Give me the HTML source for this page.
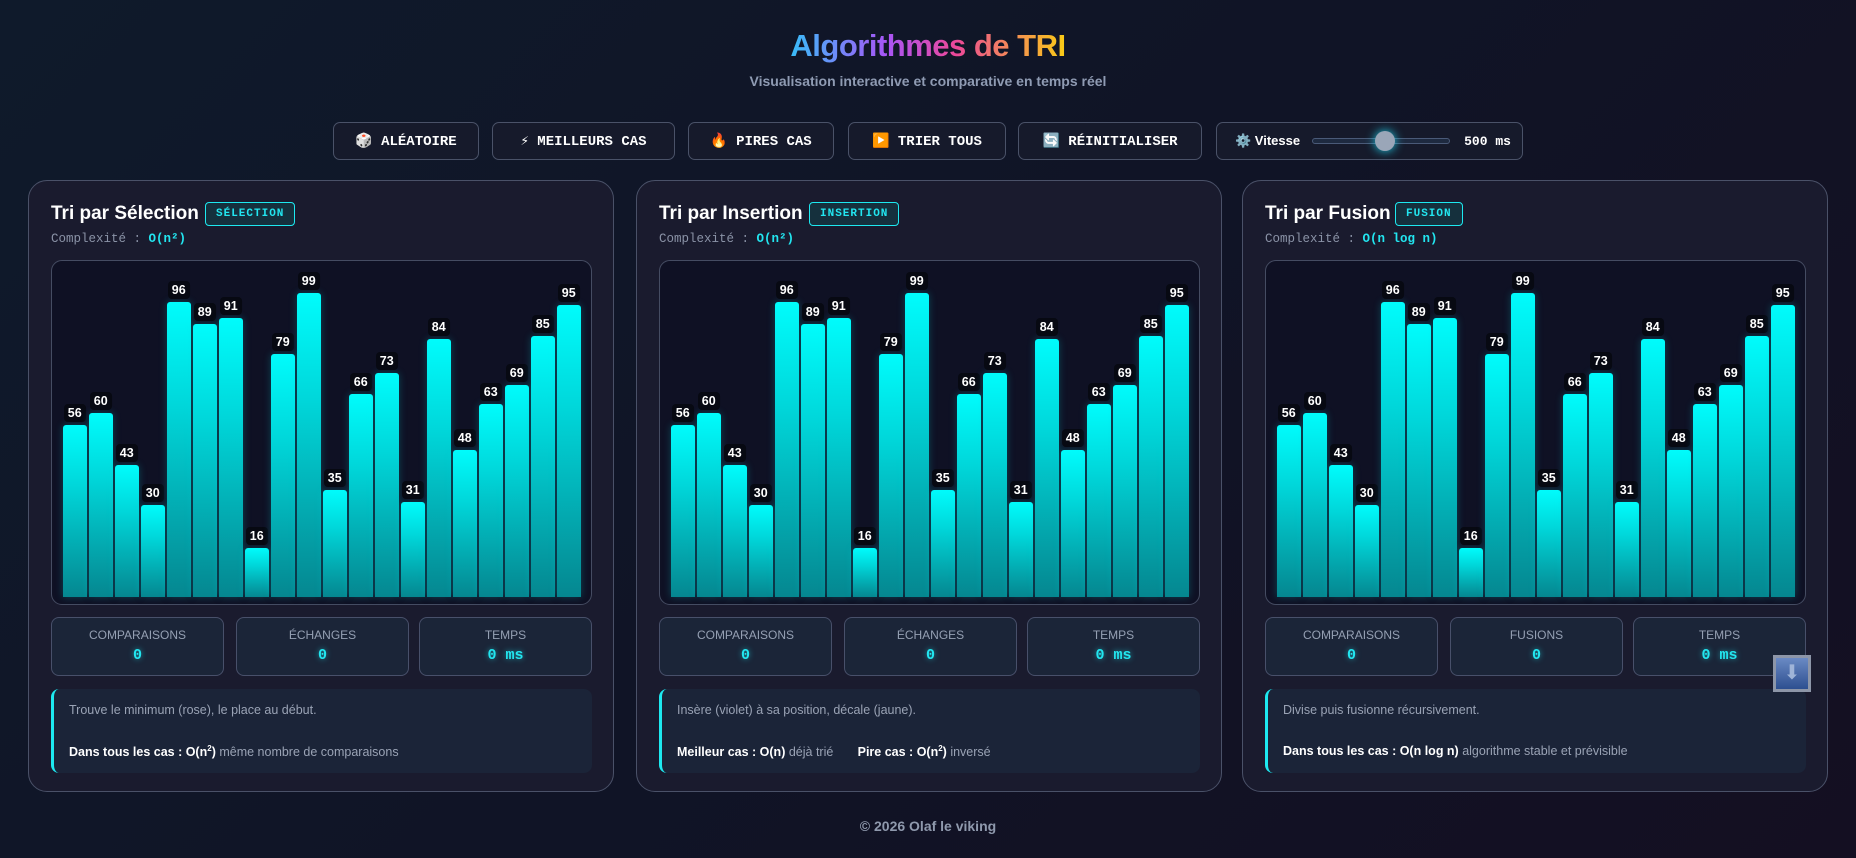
<!DOCTYPE html>
<html><head><meta charset="utf-8"><style>
*{box-sizing:border-box;margin:0;padding:0}
body{width:1856px;height:858px;overflow:hidden;background:linear-gradient(135deg,#0f1a2b 0%,#101426 50%,#140f22 100%);font-family:"Liberation Sans","DejaVu Sans",sans-serif;color:#fff;position:relative}
.h1{position:absolute;top:28px;left:0;width:1856px;text-align:center;font-size:31px;font-weight:bold;letter-spacing:-0.5px}
.h1 span{background:linear-gradient(90deg,#38bdf8,#a855f7 35%,#ec4899 60%,#facc15);-webkit-background-clip:text;background-clip:text;color:transparent}
.sub{position:absolute;top:73px;width:1856px;text-align:center;font-size:14px;font-weight:bold;color:#8f9bb3}
.btn{position:absolute;top:122px;height:38px;border:1px solid #4a5268;border-radius:7px;background:#161a2b;font-family:"Liberation Mono",monospace;font-weight:bold;font-size:14px;color:#fff;display:flex;align-items:center;justify-content:center;gap:8px}
.panel{position:absolute;top:180px;width:586px;height:612px;border:1px solid #4a5168;border-radius:19px;background:#1a1b2e}
.title{position:absolute;left:22px;top:22px;font-size:19px;font-weight:bold}
.badge{position:absolute;top:21px;height:24px;border:1px solid #1de9f0;border-radius:4px;background:#15303d;color:#22e6f0;font-family:"Liberation Mono",monospace;font-size:11px;font-weight:bold;letter-spacing:1px;padding:0 10px;line-height:22px}
.cx{position:absolute;left:22px;top:51px;font-family:"Liberation Mono",monospace;font-size:12.5px;color:#8b93a7}
.cx b{color:#22e6f0}
.chart{position:absolute;left:22px;top:79px;width:541px;height:345px;border:1px solid #454c62;border-radius:11px;background:#0f1124}
.bar{position:absolute;bottom:7px;width:23.5px;border-radius:3px 3px 0 0;background:linear-gradient(180deg,#00fcfc 0%,#00d7da 35%,#058790 100%);box-shadow:0 0 8px rgba(0,230,240,.25)}
.bar i{position:absolute;bottom:calc(100% + 3px);left:50%;transform:translateX(-50%);background:#070912;border-radius:4px;font-style:normal;font-weight:bold;font-size:12.5px;padding:2px 4px;line-height:14px;color:#fff}
.stat{position:absolute;top:436px;height:59px;border:1px solid #48506a;border-radius:8px;background:#1b2538;text-align:center}
.stat .l{font-size:12px;color:#95a0b3;margin-top:10px}
.stat .v{font-family:"Liberation Mono",monospace;font-weight:bold;font-size:15px;color:#22e6f0;margin-top:5px;text-shadow:0 0 6px rgba(34,230,240,.6)}
.info{position:absolute;left:22px;top:508px;width:541px;height:84px;border-radius:8px;background:#1b2438;border-left:3px solid #1de9f0;font-size:12.5px;color:#9aa3b5;padding:14px 0 0 15px}
.info p{margin-bottom:27px}
.info b{color:#fff}
</style></head><body>
<div class="h1"><span>Algorithmes de TRI</span></div>
<div class="sub">Visualisation interactive et comparative en temps réel</div>
<div class="btn" style="left:333px;width:146px">🎲 ALÉATOIRE</div>
<div class="btn" style="left:492px;width:183px">⚡ MEILLEURS CAS</div>
<div class="btn" style="left:688px;width:146px">🔥 PIRES CAS</div>
<div class="btn" style="left:848px;width:158px">▶️ TRIER TOUS</div>
<div class="btn" style="left:1018px;width:184px">🔄 RÉINITIALISER</div>
<div class="btn" style="left:1216px;width:307px;font-family:'Liberation Sans',sans-serif;font-size:13px;justify-content:flex-start;padding-left:18px">⚙️ Vitesse
<div style="width:138px;height:6px;border:1px solid #4a5a78;border-radius:3px;background:#1e2a40;position:relative;margin-left:4px"><div style="position:absolute;left:62px;top:-8px;width:20px;height:20px;border-radius:50%;background:#9aa6b8;box-shadow:0 0 10px #22d3ee"></div></div>
<span style="font-family:'Liberation Mono',monospace;font-size:13px;margin-left:6px">500 ms</span></div>

<div class="panel" style="left:28px">
<div class="title">Tri par Sélection</div><div class="badge" style="left:176px">SÉLECTION</div>
<div class="cx">Complexité : <b>O(n²)</b></div>
<div class="chart">
<div class="bar" style="left:11px;height:172px"><i>56</i></div><div class="bar" style="left:37px;height:184px"><i>60</i></div><div class="bar" style="left:63px;height:132px"><i>43</i></div><div class="bar" style="left:89px;height:92px"><i>30</i></div><div class="bar" style="left:115px;height:295px"><i>96</i></div><div class="bar" style="left:141px;height:273px"><i>89</i></div><div class="bar" style="left:167px;height:279px"><i>91</i></div><div class="bar" style="left:193px;height:49px"><i>16</i></div><div class="bar" style="left:219px;height:243px"><i>79</i></div><div class="bar" style="left:245px;height:304px"><i>99</i></div><div class="bar" style="left:271px;height:107px"><i>35</i></div><div class="bar" style="left:297px;height:203px"><i>66</i></div><div class="bar" style="left:323px;height:224px"><i>73</i></div><div class="bar" style="left:349px;height:95px"><i>31</i></div><div class="bar" style="left:375px;height:258px"><i>84</i></div><div class="bar" style="left:401px;height:147px"><i>48</i></div><div class="bar" style="left:427px;height:193px"><i>63</i></div><div class="bar" style="left:453px;height:212px"><i>69</i></div><div class="bar" style="left:479px;height:261px"><i>85</i></div><div class="bar" style="left:505px;height:292px"><i>95</i></div>
</div>
<div class="stat" style="left:22px;width:173px"><div class="l">COMPARAISONS</div><div class="v">0</div></div>
<div class="stat" style="left:207px;width:173px"><div class="l">ÉCHANGES</div><div class="v">0</div></div>
<div class="stat" style="left:390px;width:173px"><div class="l">TEMPS</div><div class="v">0 ms</div></div>
<div class="info"><p>Trouve le minimum (rose), le place au début.</p><div><b>Dans tous les cas : O(n<sup style="font-size:8px">2</sup>)</b> même nombre de comparaisons</div></div>
</div>

<div class="panel" style="left:636px">
<div class="title">Tri par Insertion</div><div class="badge" style="left:172px">INSERTION</div>
<div class="cx">Complexité : <b>O(n²)</b></div>
<div class="chart">
<div class="bar" style="left:11px;height:172px"><i>56</i></div><div class="bar" style="left:37px;height:184px"><i>60</i></div><div class="bar" style="left:63px;height:132px"><i>43</i></div><div class="bar" style="left:89px;height:92px"><i>30</i></div><div class="bar" style="left:115px;height:295px"><i>96</i></div><div class="bar" style="left:141px;height:273px"><i>89</i></div><div class="bar" style="left:167px;height:279px"><i>91</i></div><div class="bar" style="left:193px;height:49px"><i>16</i></div><div class="bar" style="left:219px;height:243px"><i>79</i></div><div class="bar" style="left:245px;height:304px"><i>99</i></div><div class="bar" style="left:271px;height:107px"><i>35</i></div><div class="bar" style="left:297px;height:203px"><i>66</i></div><div class="bar" style="left:323px;height:224px"><i>73</i></div><div class="bar" style="left:349px;height:95px"><i>31</i></div><div class="bar" style="left:375px;height:258px"><i>84</i></div><div class="bar" style="left:401px;height:147px"><i>48</i></div><div class="bar" style="left:427px;height:193px"><i>63</i></div><div class="bar" style="left:453px;height:212px"><i>69</i></div><div class="bar" style="left:479px;height:261px"><i>85</i></div><div class="bar" style="left:505px;height:292px"><i>95</i></div>
</div>
<div class="stat" style="left:22px;width:173px"><div class="l">COMPARAISONS</div><div class="v">0</div></div>
<div class="stat" style="left:207px;width:173px"><div class="l">ÉCHANGES</div><div class="v">0</div></div>
<div class="stat" style="left:390px;width:173px"><div class="l">TEMPS</div><div class="v">0 ms</div></div>
<div class="info"><p>Insère (violet) à sa position, décale (jaune).</p><div><b>Meilleur cas : O(n)</b> déjà trié &nbsp;&nbsp;&nbsp;&nbsp;&nbsp; <b>Pire cas : O(n<sup style="font-size:8px">2</sup>)</b> inversé</div></div>
</div>

<div class="panel" style="left:1242px">
<div class="title">Tri par Fusion</div><div class="badge" style="left:152px">FUSION</div>
<div class="cx">Complexité : <b>O(n log n)</b></div>
<div class="chart">
<div class="bar" style="left:11px;height:172px"><i>56</i></div><div class="bar" style="left:37px;height:184px"><i>60</i></div><div class="bar" style="left:63px;height:132px"><i>43</i></div><div class="bar" style="left:89px;height:92px"><i>30</i></div><div class="bar" style="left:115px;height:295px"><i>96</i></div><div class="bar" style="left:141px;height:273px"><i>89</i></div><div class="bar" style="left:167px;height:279px"><i>91</i></div><div class="bar" style="left:193px;height:49px"><i>16</i></div><div class="bar" style="left:219px;height:243px"><i>79</i></div><div class="bar" style="left:245px;height:304px"><i>99</i></div><div class="bar" style="left:271px;height:107px"><i>35</i></div><div class="bar" style="left:297px;height:203px"><i>66</i></div><div class="bar" style="left:323px;height:224px"><i>73</i></div><div class="bar" style="left:349px;height:95px"><i>31</i></div><div class="bar" style="left:375px;height:258px"><i>84</i></div><div class="bar" style="left:401px;height:147px"><i>48</i></div><div class="bar" style="left:427px;height:193px"><i>63</i></div><div class="bar" style="left:453px;height:212px"><i>69</i></div><div class="bar" style="left:479px;height:261px"><i>85</i></div><div class="bar" style="left:505px;height:292px"><i>95</i></div>
</div>
<div class="stat" style="left:22px;width:173px"><div class="l">COMPARAISONS</div><div class="v">0</div></div>
<div class="stat" style="left:207px;width:173px"><div class="l">FUSIONS</div><div class="v">0</div></div>
<div class="stat" style="left:390px;width:173px"><div class="l">TEMPS</div><div class="v">0 ms</div></div>
<div class="info"><p>Divise puis fusionne récursivement.</p><div><b>Dans tous les cas : O(n log n)</b> algorithme stable et prévisible</div></div>
</div>

<div style="position:absolute;left:1773px;top:655px;width:38px;height:37px;border:3px solid #8d96a8;background:linear-gradient(180deg,#6a8ac4,#2d4f90);color:#9fb4d8;text-align:center;font-size:20px;line-height:30px">⬇</div>
<div style="position:absolute;top:818px;width:1856px;text-align:center;font-size:14px;font-weight:bold;color:#8f99ad">© 2026 Olaf le viking</div>
</body></html>
